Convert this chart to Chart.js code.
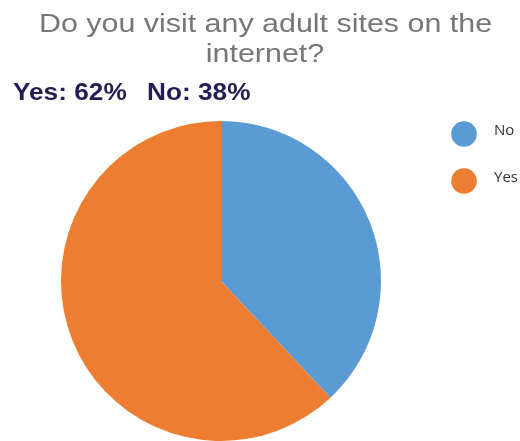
<!DOCTYPE html>
<html>
<head>
<meta charset="utf-8">
<script src="https://cdn.jsdelivr.net/npm/chart.js@4/dist/chart.umd.min.js"></script>
<style>
  html, body { margin: 0; padding: 0; background: #fff; }
  #wrap { position: relative; width: 520px; height: 441px; }
</style>
</head>
<body>
<div id="wrap"><canvas id="pieChart" width="520" height="441"></canvas></div>
<script>
// survey answers
const labels = ['No', 'Yes'];
const values = [38, 62];
const colors = ['#5b9bd5', '#ed7d31'];
const titleLines = ['Do you visit any adult sites on the', 'internet?'];
const summaryOrder = [1, 0]; // Yes first, then No

// draw text stretched a little wider than the font's normal width
function wideText(ctx, text, x, y, sx) {
    ctx.save();
    ctx.translate(x, y);
    ctx.scale(sx, 1);
    ctx.fillText(text, 0, 0);
    ctx.restore();
}

// heading + percentage summary drawn on the canvas
const headerPlugin = {
    id: 'header',
    afterDraw(chart) {
        const ctx = chart.ctx;
        ctx.save();
        ctx.textBaseline = 'alphabetic';

        ctx.fillStyle = '#767676';
        ctx.font = '26px "Liberation Sans", Arial, sans-serif';
        ctx.textAlign = 'center';
        wideText(ctx, titleLines[0], 265.5, 32, 1.17);
        wideText(ctx, titleLines[1], 265, 62, 1.17);

        ctx.fillStyle = '#231d55';
        ctx.font = 'bold 23px "Liberation Sans", Arial, sans-serif';
        ctx.textAlign = 'left';
        const xs = [13, 147];
        summaryOrder.forEach((idx, n) => {
            wideText(ctx, `${labels[idx]}: ${values[idx]}%`, xs[n], 100, 1.14);
        });
        ctx.restore();
    }
};

// legend on the right with round markers
const sideLegend = {
    id: 'sideLegend',
    afterDraw(chart) {
        const ctx = chart.ctx;
        const ds = chart.data.datasets[0];
        ctx.save();
        ctx.font = '15px "Open Sans", sans-serif';
        ctx.textAlign = 'left';
        ctx.textBaseline = 'middle';
        chart.data.labels.forEach((label, i) => {
            const y = 134 + i * 47;
            ctx.beginPath();
            ctx.arc(464, y, 12.8, 0, Math.PI * 2);
            ctx.fillStyle = ds.backgroundColor[i];
            ctx.fill();
            ctx.fillStyle = '#333333';
            ctx.fillText(label, 494, y - 3);
        });
        ctx.restore();
    }
};

document.addEventListener('DOMContentLoaded', () => {
    const ctx = document.getElementById('pieChart');
    new Chart(ctx, {
        type: 'pie',
        data: {
            labels: labels,
            datasets: [{
                data: values,
                backgroundColor: colors,
                borderWidth: 0
            }]
        },
        options: {
            responsive: false,
            animation: false,
            layout: { padding: { left: 61, right: 139, top: 121, bottom: 0 } },
            plugins: {
                legend: { display: false },
                title: { display: false },
                tooltip: { enabled: false }
            }
        },
        plugins: [headerPlugin, sideLegend]
    });
});
</script>
</body>
</html>
